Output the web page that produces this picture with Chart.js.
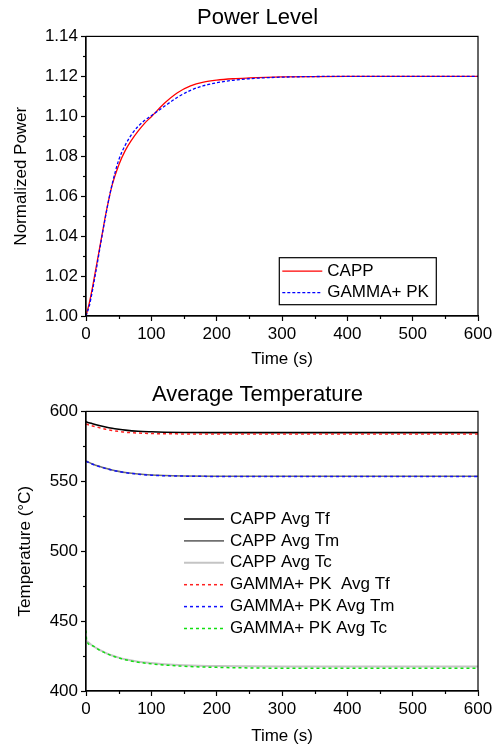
<!DOCTYPE html>
<html>
<head>
<meta charset="utf-8">
<script src="https://cdn.jsdelivr.net/npm/chart.js@4"></script>
<style>
  body { margin: 0; background: #fff; }
  #wrap { position: relative; width: 498px; height: 747px; }
  #powerBox { position: absolute; left: 0; top: 0; }
  #tempBox { position: absolute; left: 0; top: 370px; }
</style>
</head>
<body>
<div id="wrap">
  <div id="powerBox"><canvas id="powerChart" width="498" height="370"></canvas></div>
  <div id="tempBox"><canvas id="tempChart" width="498" height="377"></canvas></div>
</div>
<script>
// Power level data (time in s, normalized power)
const powerTime = [0, 5, 10, 15, 20, 25, 30, 35, 40, 50, 60, 70, 80, 90, 100, 120, 140, 160, 180, 200, 225, 250, 275, 300, 350, 400, 500, 600];
const cappPower = [1.000, 1.0065, 1.0145, 1.0235, 1.0325, 1.0415, 1.0505, 1.0585, 1.0655, 1.0755, 1.0828, 1.0882, 1.0927, 1.0966, 1.0998, 1.1065, 1.1118, 1.1152, 1.1171, 1.1181, 1.1188, 1.1192, 1.1195, 1.1197, 1.1199, 1.1200, 1.1200, 1.1200];
const gammaPower = [1.000, 1.005, 1.013, 1.022, 1.0315, 1.041, 1.050, 1.0585, 1.066, 1.078, 1.0855, 1.091, 1.095, 1.098, 1.1003, 1.1050, 1.1095, 1.1130, 1.1153, 1.1168, 1.1180, 1.1188, 1.1193, 1.1196, 1.1199, 1.1200, 1.1200, 1.1200];

// Average temperature data (time in s, temperature in C)
const tempTime = [0, 1, 10, 20, 30, 40, 50, 60, 80, 100, 120, 150, 200, 250, 300, 400, 500, 600];
const cappTf = [592.7, 592.5, 591.2, 589.9, 588.8, 587.9, 587.2, 586.6, 585.8, 585.4, 585.1, 584.9, 584.8, 584.8, 584.8, 584.8, 584.8, 584.8];
const cappTm = [564.5, 564.3, 562.4, 560.7, 559.3, 558.1, 557.1, 556.3, 555.2, 554.5, 554.1, 553.8, 553.6, 553.6, 553.6, 553.6, 553.6, 553.6];
const cappTc = [436.0, 435.7, 432.4, 429.6, 427.3, 425.4, 423.9, 422.7, 421.0, 420.0, 419.2, 418.5, 417.9, 417.7, 417.6, 417.5, 417.5, 417.5];
const gammaTf = [591.0, 590.8, 589.6, 588.4, 587.3, 586.4, 585.7, 585.1, 584.5, 584.2, 584.0, 583.9, 583.8, 583.8, 583.8, 583.8, 583.8, 583.8];
const gammaTm = [564.3, 564.1, 562.2, 560.6, 559.2, 558.0, 557.0, 556.2, 555.1, 554.4, 554.0, 553.7, 553.5, 553.5, 553.5, 553.5, 553.5, 553.5];
const gammaTc = [443.3, 436.0, 432.3, 429.4, 427.1, 425.2, 423.7, 422.4, 420.6, 419.4, 418.6, 417.7, 416.9, 416.5, 416.3, 416.2, 416.2, 416.2];

const FONT = '"Liberation Sans", Arial, sans-serif';
Chart.defaults.font.family = FONT;
Chart.defaults.color = '#000';

function toPoints(xs, ys) {
    return xs.map((x, i) => ({ x: x, y: ys[i] }));
}

// Box around the plot area
const framePlugin = {
    id: 'frame',
    afterDatasetsDraw(chart) {
        const a = chart.chartArea, ctx = chart.ctx;
        ctx.save();
        ctx.strokeStyle = '#000';
        ctx.lineWidth = 1.2;
        ctx.strokeRect(a.left, a.top, a.right - a.left, a.bottom - a.top);
        ctx.restore();
    }
};

// Short outward ticks for the minor positions
const minorTickPlugin = {
    id: 'minorTicks',
    afterDraw(chart, args, opts) {
        const ctx = chart.ctx, a = chart.chartArea;
        ctx.save();
        ctx.strokeStyle = '#000';
        ctx.lineWidth = 1.2;
        const xs = chart.scales.x, ys = chart.scales.y;
        xs.ticks.forEach(t => {
            if (opts.xMinor(t.value)) {
                const px = Math.round(xs.getPixelForValue(t.value)) + 0.5;
                ctx.beginPath(); ctx.moveTo(px, a.bottom); ctx.lineTo(px, a.bottom + 3); ctx.stroke();
            }
        });
        ys.ticks.forEach(t => {
            if (opts.yMinor(t.value)) {
                const py = Math.round(ys.getPixelForValue(t.value)) + 0.5;
                ctx.beginPath(); ctx.moveTo(a.left, py); ctx.lineTo(a.left - 3, py); ctx.stroke();
            }
        });
        ctx.restore();
    }
};

// Legend drawn inside the plot area
const insideLegendPlugin = {
    id: 'insideLegend',
    afterDraw(chart, args, opts) {
        const ctx = chart.ctx, a = chart.chartArea;
        const x0 = a.left + opts.x, y0 = a.top + opts.y;
        ctx.save();
        if (opts.box) {
            ctx.strokeStyle = '#000';
            ctx.lineWidth = 1.2;
            ctx.strokeRect(x0, y0, opts.w, opts.h);
        }
        ctx.font = '17px ' + FONT;
        ctx.textBaseline = 'middle';
        chart.data.datasets.forEach((ds, i) => {
            const y = y0 + opts.first + i * opts.gap;
            ctx.beginPath();
            ctx.strokeStyle = ds.borderColor;
            ctx.lineWidth = ds.borderWidth;
            ctx.setLineDash(ds.borderDash || []);
            ctx.moveTo(x0 + opts.lx, y);
            ctx.lineTo(x0 + opts.lx + 40, y);
            ctx.stroke();
            ctx.setLineDash([]);
            ctx.fillStyle = '#000';
            ctx.fillText(ds.label, x0 + opts.tx, y);
        });
        ctx.restore();
    }
};

const xMinor = v => Math.round(v) % 100 !== 0;

function xAxis(height) {
    return {
        type: 'linear',
        min: 0,
        max: 600,
        afterFit: s => { s.height = height; },
        ticks: {
            stepSize: 50,
            autoSkip: false,
            maxRotation: 0,
            font: { size: 17 },
            callback: v => xMinor(v) ? '' : String(v)
        },
        grid: {
            drawOnChartArea: false,
            tickLength: 5,
            tickWidth: 1.2,
            tickColor: c => xMinor(c.tick.value) ? 'rgba(0,0,0,0)' : '#000'
        },
        border: { color: '#000', width: 1.2 },
        title: { display: true, text: 'Time (s)', font: { size: 17 }, padding: { top: 0, bottom: 0 } }
    };
}

// Power level chart
const powerMinorY = v => Math.round(v * 100) % 2 !== 0;
new Chart(document.getElementById('powerChart'), {
    type: 'line',
    data: {
        datasets: [{
            label: 'CAPP',
            data: toPoints(powerTime, cappPower),
            borderColor: '#ff0000',
            borderWidth: 1.3,
            order: 1
        }, {
            label: 'GAMMA+ PK',
            data: toPoints(powerTime, gammaPower),
            borderColor: '#0000ff',
            borderWidth: 1.3,
            borderDash: [3, 2],
            order: 0
        }]
    },
    options: {
        responsive: false,
        animation: false,
        layout: { padding: { left: 37, right: 20, top: 0, bottom: 0 } },
        elements: { point: { radius: 0 }, line: { cubicInterpolationMode: 'monotone' } },
        plugins: {
            legend: { display: false },
            tooltip: { enabled: false },
            title: { display: true, text: 'Power Level', font: { size: 22, weight: 'normal' }, color: '#000', padding: { top: 5, bottom: 5 } },
            minorTicks: { xMinor: xMinor, yMinor: powerMinorY },
            insideLegend: { box: true, x: 193.3, y: 221.3, w: 157, h: 47, lx: 3, tx: 48, first: 13.4, gap: 21.6 }
        },
        scales: {
            x: xAxis(54),
            y: {
                min: 1.00,
                max: 1.14,
                afterFit: s => { s.width = 49; },
                ticks: {
                    stepSize: 0.01,
                    autoSkip: false,
                    font: { size: 17 },
                    callback: v => powerMinorY(v) ? '' : v.toFixed(2)
                },
                grid: {
                    drawOnChartArea: false,
                    tickLength: 5,
                    tickWidth: 1.2,
                    tickColor: c => powerMinorY(c.tick.value) ? 'rgba(0,0,0,0)' : '#000'
                },
                border: { color: '#000', width: 1.2 },
                title: { display: true, text: 'Normalized Power', font: { size: 17 }, padding: { top: -26, bottom: 0 } }
            }
        }
    },
    plugins: [framePlugin, minorTickPlugin, insideLegendPlugin]
});

// Average temperature chart
const tempMinorY = v => Math.round(v) % 50 !== 0;
new Chart(document.getElementById('tempChart'), {
    type: 'line',
    data: {
        datasets: [
            { label: 'CAPP Avg Tf', data: toPoints(tempTime, cappTf), borderColor: '#000000', borderWidth: 1.6, order: 1 },
            { label: 'CAPP Avg Tm', data: toPoints(tempTime, cappTm), borderColor: '#707070', borderWidth: 1.6, order: 1 },
            { label: 'CAPP Avg Tc', data: toPoints(tempTime, cappTc), borderColor: '#c4c4c4', borderWidth: 2, order: 1 },
            { label: 'GAMMA+ PK  Avg Tf', data: toPoints(tempTime, gammaTf), borderColor: '#ff2020', borderWidth: 1.5, borderDash: [3, 3], order: 0 },
            { label: 'GAMMA+ PK Avg Tm', data: toPoints(tempTime, gammaTm), borderColor: '#1010ff', borderWidth: 1.5, borderDash: [3, 3], order: 0 },
            { label: 'GAMMA+ PK Avg Tc', data: toPoints(tempTime, gammaTc), borderColor: '#10e010', borderWidth: 1.5, borderDash: [3, 3], order: 0 }
        ]
    },
    options: {
        responsive: false,
        animation: false,
        layout: { padding: { left: 37, right: 20, top: 0, bottom: 0 } },
        elements: { point: { radius: 0 }, line: { cubicInterpolationMode: 'monotone' } },
        plugins: {
            legend: { display: false },
            tooltip: { enabled: false },
            title: { display: true, text: 'Average Temperature', font: { size: 22, weight: 'normal' }, color: '#000', padding: { top: 12, bottom: 3 } },
            minorTicks: { xMinor: xMinor, yMinor: tempMinorY },
            insideLegend: { box: false, x: 98, y: 0, lx: 0, tx: 46, first: 107.6, gap: 21.9 }
        },
        scales: {
            x: xAxis(56),
            y: {
                min: 400,
                max: 600,
                afterFit: s => { s.width = 49; },
                ticks: {
                    stepSize: 25,
                    autoSkip: false,
                    font: { size: 17 },
                    callback: v => tempMinorY(v) ? '' : String(v)
                },
                grid: {
                    drawOnChartArea: false,
                    tickLength: 5,
                    tickWidth: 1.2,
                    tickColor: c => tempMinorY(c.tick.value) ? 'rgba(0,0,0,0)' : '#000'
                },
                border: { color: '#000', width: 1.2 },
                title: { display: true, text: 'Temperature (\u00B0C)', font: { size: 17 }, padding: { top: -22, bottom: 0 } }
            }
        }
    },
    plugins: [framePlugin, minorTickPlugin, insideLegendPlugin]
});
</script>
</body>
</html>
